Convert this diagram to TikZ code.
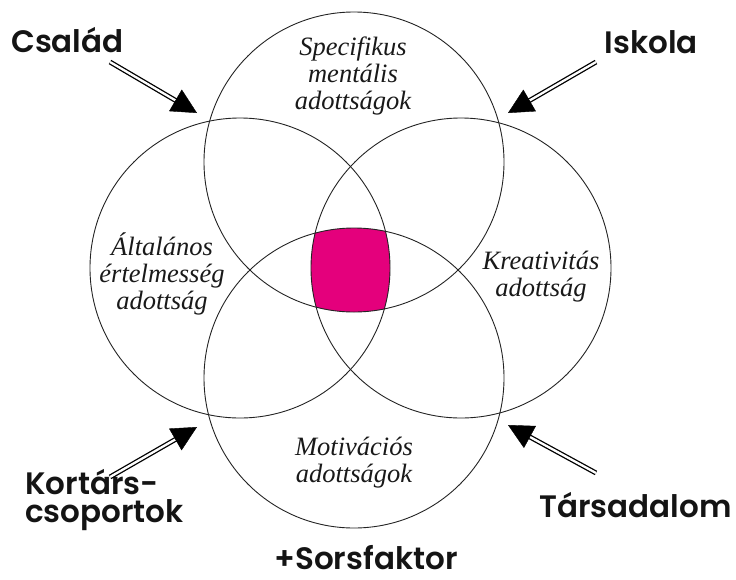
\documentclass[tikz,border=0pt]{standalone}
\usepackage{fontspec}
\setmainfont{Liberation Serif}
\newfontfamily\labfont{Poppins}[UprightFont=* SemiBold, BoldFont=* Bold]
\usetikzlibrary{arrows.meta,calc}
\definecolor{pinkfill}{RGB}{228,0,124}
\definecolor{ringcol}{RGB}{35,35,35}
\tikzset{
  ring/.style={draw=ringcol, line width=0.9pt},
  itext/.style={align=center, inner sep=0pt, text=black!90, font=\itshape\fontsize{26.5}{27}\selectfont},
  blab/.style={inner sep=0pt, text=black!92, font=\labfont\fontsize{31}{28}\selectfont},
  shaft/.style={double=white, draw=black, line width=1.3pt, double distance=2.3pt, shorten >=22pt},
  headtip/.style={draw=black, line width=0.4pt, -{Triangle[length=25pt,width=25pt]}}
}
\begin{document}
\begin{tikzpicture}[x=1pt,y=-1pt]
\useasboundingbox (0,0) rectangle (736,579);
% circle centres
\coordinate (ct) at (354,162);
\coordinate (cb) at (354,378);
\coordinate (cl) at (240,268);
\coordinate (cr) at (461,268);
% common region
\begin{scope}
  \clip (ct) circle (150pt);
  \clip (cb) circle (150pt);
  \clip (cl) circle (150pt);
  \fill[pinkfill] (cr) circle (150pt);
\end{scope}
\draw[ring] (ct) circle (150pt);
\draw[ring] (cb) circle (150pt);
\draw[ring] (cl) circle (150pt);
\draw[ring] (cr) circle (150pt);
% circle texts
\node[itext] (tspec) at (353,76) {Specifikus\\mentális\\adottságok};
\node[itext] (talt) at (162,274) {Általános\\értelmesség\\adottság};
\node[itext] (tkre) at (541,277) {Kreativitás\\adottság};
\node[itext] (tmot) at (354,463) {Motivációs\\adottságok};
% outer labels
\node[blab, anchor=base west] (lcs) at (11,52) {Család};
\node[blab, anchor=base east] (lis) at (698,53) {Iskola};
\node[blab, anchor=base west, align=left] (lko) at (25,522) {Kortárs-\\csoportok};
\node[blab, anchor=base east] (lta) at (732,517) {Társadalom};
\node[blab, anchor=base] (lso) at (366,569) {+Sorsfaktor};
% arrows
\coordinate (a1s) at (110,62);  \coordinate (a1e) at (197,113);
\coordinate (a2s) at (596,62);  \coordinate (a2e) at (508,113);
\coordinate (a3s) at (110,477); \coordinate (a3e) at (197,427);
\coordinate (a4s) at (596,473); \coordinate (a4e) at (508,425);
\foreach \s/\e in {a1s/a1e,a2s/a2e,a3s/a3e,a4s/a4e}{
  \draw[shaft] (\s) -- (\e);
  \draw[headtip] ($(\e)!25pt!(\s)$) -- (\e);
}
\end{tikzpicture}
\end{document}
